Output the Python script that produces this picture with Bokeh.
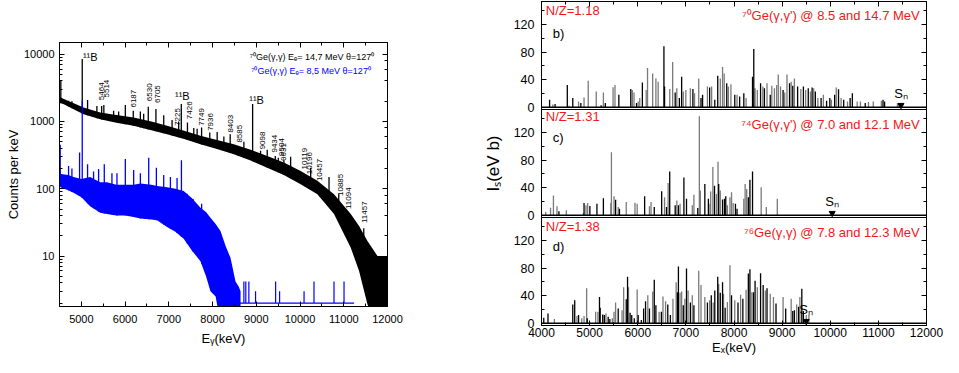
import numpy as np
from bokeh.plotting import figure
from bokeh.layouts import row, column
from bokeh.models import (LinearAxis, LogAxis, SingleIntervalTicker, LogTicker, FixedTicker,
                          PrintfTickFormatter, Range1d, Span)
from bokeh.core.properties import value
from bokeh.embed import file_html
from bokeh.resources import INLINE

FONT = "Liberation Sans"

# ---------------- left panel data: gamma spectra (counts per keV) ----------------
black_E = [4500, 4600, 4800, 5050, 5430, 5800, 6195, 6600, 6960, 7350, 7723, 8100,
           8486, 8870, 9250, 9630, 10014, 10397, 10777, 11160, 11350, 11542, 11771, 12000]
black_hi = [2300, 2150, 1900, 1610, 1355, 1250, 1143, 1000, 860, 730, 611, 530,
            459, 380, 308, 245, 184, 131, 83, 42, 28, 16.7, 10, 10]
black_lo = [1900, 1800, 1550, 1285, 1080, 960, 861, 740, 648, 550, 460, 390,
            326, 262, 206, 160, 117, 83, 42, 13.3, 6, 1.9, 1, 1]

label_E = [5464, 5514, 6187, 6530, 6705, 7225, 7426, 7749, 7936, 8403, 8585, 9098,
           9434, 9504, 9631, 10119, 10196, 10457, 10885, 11094, 11457]
label_top = [1700, 1750, 1440, 1650, 1525, 1000, 965, 810, 683, 646, 433, 366,
             308, 290, 270, 164, 140, 117, 83, 44, 26]
# where each rotated energy label starts
label_at_E = [5471, 5570, 6195, 6555, 6731, 7190, 7464, 7746, 7952, 8410, 8610, 9137,
              9418, 9572, 9632, 10106, 10227, 10456, 10930, 11098, 11464]
label_at_counts = [2070, 2270, 1610, 2000, 1880, 860, 1080, 860, 725, 683, 485, 385,
                   345, 308, 260, 194, 164, 130, 78, 50, 31]
b11_E = [5020, 7285, 8916]
b11_top = [8460, 1810, 1810]
b11_label_y = [8930, 2400, 2075]
other_E = [4530, 4707, 4784, 5142, 5355, 5737, 5852, 6005, 6349, 6425, 6883, 7074,
           7570, 7647, 8105, 8258, 8716, 9250, 9785, 10243, 10663]
other_top = [4000, 2030, 2000, 2075, 1700, 1440, 1400, 1750, 1400, 1300, 1240, 1050,
             800, 780, 700, 600, 500, 380, 300, 205, 150]

blue_E = [4500, 4530, 4700, 4820, 5000, 5200, 5430, 5585, 5800, 6000, 6195, 6350, 6600,
          6730, 6960, 7150, 7340, 7530, 7723, 7850, 7952, 8070, 8181, 8300, 8410, 8525,
          8600, 8640]
blue_hi = [250, 165, 160, 150, 140, 150, 125, 125, 115, 115, 115, 120, 115,
           110, 105, 100, 93, 72, 52, 45, 37, 30, 23.5, 14, 9.4, 4.2, 3.5, 3]
blue_lo = [110, 104, 95, 87, 75, 55, 44, 42, 40, 40, 38, 36, 35,
           34, 27, 23, 18, 12, 8.4, 5, 3, 2.5, 1, 1, 1, 1, 1, 1]
blue_pk_E = [4516, 4707, 4784, 4959, 5020, 5142, 5279, 5394, 5524, 5699, 5814, 6005,
             6196, 6349, 6540, 6715, 6883, 7036, 7188, 7288, 7418, 7560, 7750]
blue_pk_top = [450, 218, 200, 345, 2030, 231, 180, 196, 231, 170, 170, 276,
               190, 170, 290, 206, 160, 150, 145, 265, 84, 70, 60]
blue_floor_E = [8600, 11236]
blue_floor = [2, 2]
blue_tail_E = [8716, 8760, 8830, 8983, 9442, 9533, 10092, 10319, 10777, 11006]
blue_tail_top = [4.2, 4.2, 4.2, 3, 4.2, 3, 3, 4.2, 4.2, 4.2]

legend_black = "\u2077\u2070Ge(\u03b3,\u03b3) E\u2091= 14,7 MeV \u03b8=127\u2070"
legend_blue = "\u2077\u2070Ge(\u03b3,\u03b3) E\u2091= 8,5 MeV \u03b8=127\u2070"

# ---------------- right panels data: Is (eV b) vs Ex (keV) ----------------
b_k_E = [4168, 4282, 4536, 4650, 4817, 5239, 5326, 5607, 5855, 5975, 6096, 6544, 6557,
         6778, 6865, 6912, 7146, 7314, 7347, 7494, 7601, 7662, 7849, 8016, 8117, 8204,
         8385, 8411, 8552, 8632, 8753, 9020, 9154, 9221, 9322, 9442, 9543, 9623, 9690,
         9810, 9924, 9991, 10091, 10172, 10279, 10413, 10459, 10727, 11096, 11129]
b_k_I = [10.9, 4.7, 32.3, 13.3, 6.2, 2.8, 6.2, 18.1, 26.6, 6.2, 36.1, 88.5, 30,
         21.4, 13.3, 44.2, 26.6, 13.3, 18.1, 28.5, 10.9, 45.7, 34.7, 18.1, 15.7, 20.4,
         44.2, 84.7, 34.7, 27.6, 18.1, 25.2, 34.7, 31.4, 30, 30, 27.6, 28.5, 22.8,
         13.3, 9.5, 13.3, 18.1, 26.1, 10.9, 13.3, 20.4, 6.2, 10.9, 8.5]
b_g_E = [4235, 4570, 4770, 4884, 4971, 5138, 5286, 5487, 5527, 5888, 5922, 6009, 6042,
         6176, 6203, 6310, 6377, 6424, 6665, 6725, 6812, 6946, 6999, 7093, 7180, 7267,
         7448, 7535, 7715, 7762, 7796, 7883, 7936, 8063, 8251, 8438, 8485, 8599, 8686,
         8786, 8840, 8887, 8920, 8967, 9054, 9101, 9188, 9255, 9389, 9489, 9589, 9656,
         9743, 9857, 10024, 10125, 10225, 10359, 10560, 10627, 10794, 10894, 11062,
         11396, 11430]
b_g_I = [3.8, 2, 8.5, 14.3, 38.5, 22.8, 21.4, 29, 32.3, 25.2, 21.4, 8.5, 13.3,
         25.2, 57.1, 49, 41.9, 37.1, 26.6, 65.7, 27.6, 22.8, 25.2, 27.6, 20.4, 41.9,
         30, 30, 41.9, 58.5, 49, 30, 33.3, 18.1, 13.3, 27.6, 25.2, 30, 34.7,
         31.4, 27.6, 32.3, 47.6, 30, 21.4, 47.6, 37.1, 41.9, 26.6, 25.2, 22.8, 27.6,
         13.3, 18.1, 10.9, 28.5, 13.3, 8.5, 8.5, 8.5, 7.6, 8.5, 9.5,
         5.7, 5.7]

c_k_E = [4362, 4884, 5005, 5152, 5286, 5540, 5620, 6143, 6343, 6497, 6598, 6664, 6778,
         6845, 6959, 7013, 7247, 7394, 7468, 7595, 7682, 7762, 7802, 7829, 8030, 8063,
         8298, 8331, 8385]
c_k_I = [5.8, 17.7, 13.4, 16.7, 24.8, 22.5, 9.6, 27.7, 12, 34.8, 12, 63.4, 14.4,
         14.4, 54.8, 23.9, 10.5, 45.3, 23.9, 42.9, 45.3, 23, 23.9, 27.7, 16.7, 9.6,
         26.3, 51.5, 63.4]
c_g_E = [4088, 4188, 4248, 4322, 4516, 4871, 4924, 4958, 5440, 5453, 5507, 5594, 5761,
         5942, 5988, 6243, 6276, 6557, 6631, 6812, 6879, 7133, 7167, 7280, 7300, 7501,
         7515, 7561, 7635, 7668, 7715, 7863, 7916, 7949, 7983, 8204, 8231, 8264, 8565,
         8672, 8900]
c_g_I = [4.8, 11, 28.6, 13, 7.2, 3.4, 14.4, 17.7, 17.7, 91.5, 27.7, 12, 19.1,
         18.2, 16.7, 13, 19.1, 26.3, 46.7, 21.5, 16.7, 14.4, 29.6, 143.8, 35.8, 16.7,
         34.4, 70, 31, 77.7, 35.8, 14.4, 26.3, 33.4, 17.7, 23.9, 45.3, 38.1, 40.5,
         12, 23.9]

d_k_E = [4047, 4135, 4650, 4690, 4770, 4951, 5205, 5219, 5272, 5306, 5386, 5420, 5594,
         5761, 5788, 5841, 5875, 5928, 6009, 6075, 6122, 6162, 6243, 6343, 6377, 6491,
         6624, 6678, 6825, 6845, 6946, 7013, 7093, 7167, 7448, 7528, 7601, 7662, 7715,
         7762, 7816, 7949, 8083, 8184, 8298, 8331, 8405, 8438, 8552, 8606, 8686, 8873,
         9074, 9221, 9255, 9342, 9409, 9442]
d_k_I = [8.1, 14.3, 27.1, 33.3, 11.9, 7.1, 38.1, 22.4, 12.8, 11.9, 9.5, 6.2, 21.4,
         34.7, 67.6, 15.2, 11.9, 7.1, 11.9, 4.8, 21.4, 31.9, 21.4, 63.3, 26.2, 16.7,
         27.1, 11.9, 45.2, 82.3, 26.2, 79.5, 30, 26.2, 30, 40.5, 47.6, 67.6, 44.3,
         59.5, 22.4, 40.5, 30, 35.7, 72.4, 78.5, 45.2, 61.9, 72.8, 55.7, 50.9, 28.5,
         21.4, 17.6, 19, 23.8, 50, 17.6]
d_g_E = [4268, 4737, 4837, 4884, 4938, 5125, 5172, 5339, 5473, 5507, 5540, 5674, 5707,
         5808, 5988, 6209, 6310, 6444, 6524, 6578, 6731, 6798, 6879, 6912, 6979, 7046,
         7133, 7267, 7314, 7394, 7494, 7568, 7682, 7782, 7863, 7916, 8016, 8137, 8251,
         8371, 8485, 8652, 8753, 8820, 9020, 9188, 9302, 9369, 9502, 9556]
d_g_I = [6.2, 10.5, 7.1, 10.5, 50.9, 16.7, 16.7, 14.3, 7.1, 16.7, 30, 19, 52.4,
         52.4, 49, 40.5, 46.2, 16.7, 39, 31.9, 35.7, 59.5, 44.3, 46.2, 35.7, 47.6,
         40.5, 76.2, 55.7, 38.1, 33.3, 30, 57.1, 42.8, 31, 84.2, 33.3, 41.4, 48.6,
         45.2, 52.4, 47.6, 42.8, 38.1, 38.1, 35.7, 27.1, 38.1, 11.9, 11.9]

Sn_E = [11470, 10040, 9500]
NZ = ["N/Z=1.18", "N/Z=1.31", "N/Z=1.38"]
reaction = ["\u2077\u2070Ge(\u03b3,\u03b3') @ 8.5 and 14.7 MeV",
            "\u2077\u2074Ge(\u03b3,\u03b3') @ 7.0 and 12.1 MeV",
            "\u2077\u2076Ge(\u03b3,\u03b3) @ 7.8 and 12.3 MeV"]
panel_tag = ["b)", "c)", "d)"]
Is_major = [0, 40, 80, 120]
Is_minor = [20, 60, 100, 140]

RED = "#f01818"
BLUE = "#0000ff"
GRAY = "#7a7a7a"


def style_axis(ax, label_size="11px", hide=False, standoff=6):
    ax.major_tick_in = 5
    ax.major_tick_out = 0
    ax.minor_tick_in = 3
    ax.minor_tick_out = 0
    ax.axis_line_color = "black"
    ax.major_tick_line_color = "black"
    ax.minor_tick_line_color = "black"
    ax.major_label_text_font = FONT
    ax.major_label_text_color = "black"
    ax.axis_label_text_font = FONT
    ax.axis_label_text_font_style = "normal"
    ax.axis_label_text_color = "black"
    if hide:
        ax.major_label_text_font_size = "1px"
        ax.major_label_text_alpha = 0
        ax.major_label_standoff = 0
    else:
        ax.major_label_text_font_size = label_size
        ax.major_label_standoff = standoff


def new_fig(**kw):
    p = figure(output_backend="svg", toolbar_location=None, **kw)
    p.xgrid.visible = False
    p.ygrid.visible = False
    p.outline_line_color = "black"
    return p


# ---------------- left figure ----------------
left = new_fig(width=470, height=357, x_range=Range1d(4500, 12000),
               y_range=Range1d(1.78, 14900), y_axis_type="log",
               min_border_left=59, min_border_right=83, min_border_top=42,
               min_border_bottom=51)

left.xaxis.ticker = SingleIntervalTicker(interval=1000, num_minor_ticks=2)
style_axis(left.xaxis[0], "11px", standoff=8)
left.xaxis.axis_label = "E\u1d67(keV)"
left.xaxis.axis_label_text_font_size = "13px"
left.xaxis.axis_label_standoff = 5
left.yaxis.formatter = PrintfTickFormatter(format="%d")
style_axis(left.yaxis[0], "11px", standoff=5)
left.yaxis.axis_label = "Counts per keV"
left.yaxis.axis_label_text_font_size = "13px"
left.yaxis.axis_label_standoff = 0

ax_top = LinearAxis(ticker=SingleIntervalTicker(interval=1000, num_minor_ticks=2))
style_axis(ax_top, hide=True)
left.add_layout(ax_top, "above")
ax_right = LogAxis(ticker=LogTicker(), formatter=PrintfTickFormatter(format="%d"))
style_axis(ax_right, hide=True)
left.add_layout(ax_right, "right")

left.varea(x=black_E, y1=black_lo, y2=black_hi, color="black")
all_pk_E = np.array(label_E + b11_E + other_E, dtype=float)
all_pk_top = np.array(label_top + b11_top + other_top, dtype=float)
left.segment(x0=all_pk_E, y0=np.interp(all_pk_E, black_E, black_lo),
             x1=all_pk_E, y1=all_pk_top, line_color="black", line_width=1.3)

left.varea(x=blue_E, y1=blue_lo, y2=blue_hi, color=BLUE)
bpe = np.array(blue_pk_E, dtype=float)
left.segment(x0=bpe, y0=np.interp(bpe, blue_E, blue_lo), x1=bpe, y1=blue_pk_top,
             line_color=BLUE, line_width=1.3)
left.line(blue_floor_E, blue_floor, line_color=BLUE, line_width=1.3)
left.segment(x0=blue_tail_E, y0=[blue_floor[0]] * len(blue_tail_E), x1=blue_tail_E,
             y1=blue_tail_top, line_color=BLUE, line_width=1.2)

left.text(x=label_at_E, y=label_at_counts, text=[str(e) for e in label_E],
          angle=np.pi / 2, text_align="left", text_baseline="middle",
          text_font_size="8px", text_font=value(FONT), text_color="black")
left.text(x=b11_E, y=b11_label_y, text=["\u00b9\u00b9B"] * 3, x_offset=[8, 1, 4],
          text_align="center", text_baseline="middle",
          text_font_size="11px", text_font=value(FONT), text_color="black")
left.text(x=[11700], y=[9150], text=[legend_black], text_align="right",
          text_baseline="middle", text_font_size="9px", text_font=value(FONT),
          text_color="black")
left.text(x=[11620], y=[5530], text=[legend_blue], text_align="right",
          text_baseline="middle", text_font_size="9px", text_font=value(FONT),
          text_color=BLUE)

# ---------------- right figure: three stacked panels sharing one frame ----------------
Y0 = -3.3
P = 157.0                       # height of one panel in eV b
panel_names = ["b", "c", "d"]
ranges = {"b": Range1d(Y0 - 2 * P, Y0 + P),
          "c": Range1d(Y0 - P, Y0 + 2 * P)}

right = new_fig(width=473, height=357, x_range=Range1d(4000, 12000),
                y_range=Range1d(Y0, Y0 + 3 * P),
                min_border_left=71, min_border_right=17, min_border_top=1,
                min_border_bottom=29)
right.extra_y_ranges = ranges

offsets = [2 * P, P, 0.0]       # position of each panel's zero on the shared axis
major_pos, minor_pos, overrides = [], [], {}
for off in offsets:
    for t in Is_major:
        major_pos.append(off + t)
        overrides[off + t] = str(t)
    for t in Is_minor:
        minor_pos.append(off + t)
yticker = FixedTicker(ticks=major_pos, minor_ticks=minor_pos)

right.xaxis.ticker = SingleIntervalTicker(interval=1000, num_minor_ticks=2)
style_axis(right.xaxis[0], "12px", standoff=2)
right.xaxis.axis_label = "E\u2093(keV)"
right.xaxis.axis_label_text_font_size = "13px"
right.xaxis.axis_label_standoff = 0
right.yaxis.ticker = yticker
right.yaxis.major_label_overrides = overrides
style_axis(right.yaxis[0], "12.5px", standoff=7)
right.yaxis.axis_label = "I\u209b(eV b)"
right.yaxis.axis_label_text_font_size = "17px"
right.yaxis.axis_label_standoff = 8

rt = LinearAxis(ticker=SingleIntervalTicker(interval=1000, num_minor_ticks=2))
style_axis(rt, hide=True)
right.add_layout(rt, "above")
rr = LinearAxis(ticker=FixedTicker(ticks=major_pos, minor_ticks=minor_pos))
style_axis(rr, hide=True)
right.add_layout(rr, "right")

for k in (1, 2):
    right.add_layout(Span(location=Y0 + k * P, dimension="width",
                          line_color="black", line_width=1))

panel_data = [(b_k_E, b_k_I, b_g_E, b_g_I), (c_k_E, c_k_I, c_g_E, c_g_I),
              (d_k_E, d_k_I, d_g_E, d_g_I)]
nz_y = [140, 143, 141]
re_y = [134, 132, 132]
tag_y = [107, 113, 111]
for i, name in enumerate(panel_names):
    rn = name if name in ranges else "default"
    kE, kI, gE, gI = panel_data[i]
    right.add_layout(Span(location=0, dimension="width", line_color="black",
                          line_width=1.5, y_range_name=rn))
    right.segment(x0=gE, y0=[0] * len(gE), x1=gE, y1=gI, line_color=GRAY,
                  line_width=1.3, y_range_name=rn)
    right.segment(x0=kE, y0=[0] * len(kE), x1=kE, y1=kI, line_color="black",
                  line_width=1.3, y_range_name=rn)
    right.scatter(x=[Sn_E[i]], y=[3], marker="inverted_triangle", size=6,
                  color="black", y_range_name=rn)
    right.text(x=[Sn_E[i]], y=[9], text=["S\u2099"], text_align="center",
               text_baseline="bottom", text_font_size="13px", text_font=value(FONT),
               text_color="black", y_range_name=rn)
    right.text(x=[4090], y=[nz_y[i]], text=[NZ[i]], text_align="left",
               text_baseline="middle", text_font_size="13px", text_font=value(FONT),
               text_color=RED, y_range_name=rn)
    right.text(x=[11860], y=[re_y[i]], text=[reaction[i]], text_align="right",
               text_baseline="middle", text_font_size="13px", text_font=value(FONT),
               text_color=RED, y_range_name=rn)
    right.text(x=[4235], y=[tag_y[i]], text=[panel_tag[i]], text_align="left",
               text_baseline="middle", text_font_size="13px", text_font=value(FONT),
               text_color="black", y_range_name=rn)

layout = row(column(left), column(right))

open("out.html", "w").write(file_html(layout, INLINE))
